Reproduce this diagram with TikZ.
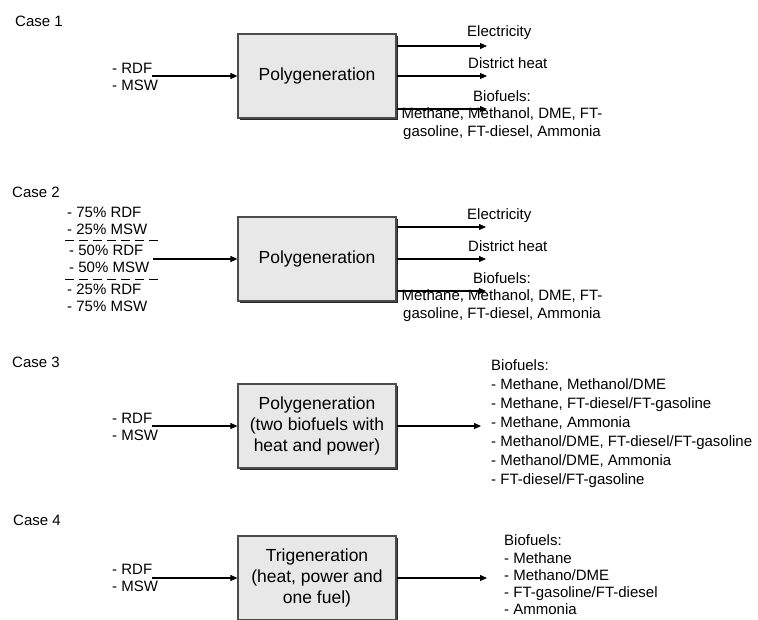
\documentclass[tikz,border=0pt]{standalone}
\usepackage{fontspec}
\setmainfont{Liberation Sans}
\usetikzlibrary{arrows.meta,positioning,shadows}

\begin{document}
\begin{tikzpicture}[x=1pt,y=-1pt,
    >={Triangle[length=7pt,width=6pt]},
    flow/.style={->,line width=1.1pt},
    genbox/.style={draw=black!70,line width=1.2pt,fill=black!9,
        minimum width=158pt,minimum height=84pt,align=center,
        font=\fontsize{17.5}{21}\selectfont,
        drop shadow={shadow xshift=2pt,shadow yshift=-2pt,fill=black!85,opacity=1}},
    txt/.style={inner sep=0pt,font=\fontsize{15}{17.5}\selectfont},
    sep/.style={line width=1pt,dash pattern=on 9pt off 5pt}]
    \useasboundingbox (0,0) rectangle (758,619);

    % case labels
    \node[txt,anchor=west] (case1) at (15,21)  {Case 1};
    \node[txt,anchor=west] (case2) at (12,192) {Case 2};
    \node[txt,anchor=west] (case3) at (12,362) {Case 3};
    \node[txt,anchor=west] (case4) at (13,520) {Case 4};

    % plants
    \node[genbox] (p1) at (317,76)  {Polygeneration};
    \node[genbox] (p2) at (317,259) {Polygeneration};
    \node[genbox] (p3) at (317,426) {Polygeneration\\(two biofuels with\\heat and power)};
    \node[genbox] (p4) at (317,578) {Trigeneration\\(heat, power and\\one fuel)};

    % feedstock
    \node[txt,anchor=west,align=left] (in1) at (112,77)  {- RDF\\- MSW};
    \node[txt,anchor=west,align=left] (in2a) at (67,221) {- 75\% RDF\\- 25\% MSW};
    \node[txt,anchor=west,align=left] (in2b) at (69,259) {- 50\% RDF\\- 50\% MSW};
    \node[txt,anchor=west,align=left] (in2c) at (67,298) {- 25\% RDF\\- 75\% MSW};
    \node[txt,anchor=west,align=left] (in3) at (112,427) {- RDF\\- MSW};
    \node[txt,anchor=west,align=left] (in4) at (112,578) {- RDF\\- MSW};
    \draw[sep] (65,240) -- (162,240);
    \draw[sep] (65,279) -- (162,279);

    \coordinate (s1) at (152,76);
    \coordinate (s2) at (153,259);
    \coordinate (s3) at (152,426);
    \coordinate (s4) at (152,578);
    \draw[flow] (s1) -- (s1 -| p1.west);
    \draw[flow] (s2) -- (s2 -| p2.west);
    \draw[flow] (s3) -- (s3 -| p3.west);
    \draw[flow] (s4) -- (s4 -| p4.west);

    % products, case 1
    \coordinate (e1a) at (487,46);
    \coordinate (e1b) at (487,76);
    \coordinate (e1c) at (487,109);
    \draw[flow] (e1a -| p1.east) -- (e1a);
    \draw[flow] (e1b -| p1.east) -- (e1b);
    \draw[flow] (e1c -| p1.east) -- (e1c);
    \node[txt,anchor=west] (el1) at (467,33) {Electricity};
    \node[txt,anchor=west] (dh1) at (468,63) {District heat};
    \node[txt,align=center] (bf1) at (502,115) {Biofuels:\\Methane, Methanol, DME, FT-\\gasoline, FT-diesel, Ammonia};

    % products, case 2
    \coordinate (e2a) at (486,227);
    \coordinate (e2b) at (486,259);
    \coordinate (e2c) at (486,291);
    \draw[flow] (e2a -| p2.east) -- (e2a);
    \draw[flow] (e2b -| p2.east) -- (e2b);
    \draw[flow] (e2c -| p2.east) -- (e2c);
    \node[txt,anchor=west] (el2) at (467,216) {Electricity};
    \node[txt,anchor=west] (dh2) at (468,246) {District heat};
    \node[txt,align=center] (bf2) at (502,297) {Biofuels:\\Methane, Methanol, DME, FT-\\gasoline, FT-diesel, Ammonia};

    % products, case 3
    \coordinate (e3) at (481,426);
    \draw[flow] (e3 -| p3.east) -- (e3);
    \node[txt,anchor=west,align=left,font=\fontsize{15}{19}\selectfont] (bf3) at (491,424)
        {Biofuels:\\- Methane, Methanol/DME\\- Methane, FT-diesel/FT-gasoline\\- Methane, Ammonia\\- Methanol/DME, FT-diesel/FT-gasoline\\- Methanol/DME, Ammonia\\- FT-diesel/FT-gasoline};

    % products, case 4
    \coordinate (e4) at (487,578);
    \draw[flow] (e4 -| p4.east) -- (e4);
    \node[txt,anchor=west,align=left,font=\fontsize{15}{17.3}\selectfont] (bf4) at (504,575)
        {Biofuels:\\- Methane\\- Methano/DME\\- FT-gasoline/FT-diesel\\- Ammonia};
\end{tikzpicture}
\end{document}
